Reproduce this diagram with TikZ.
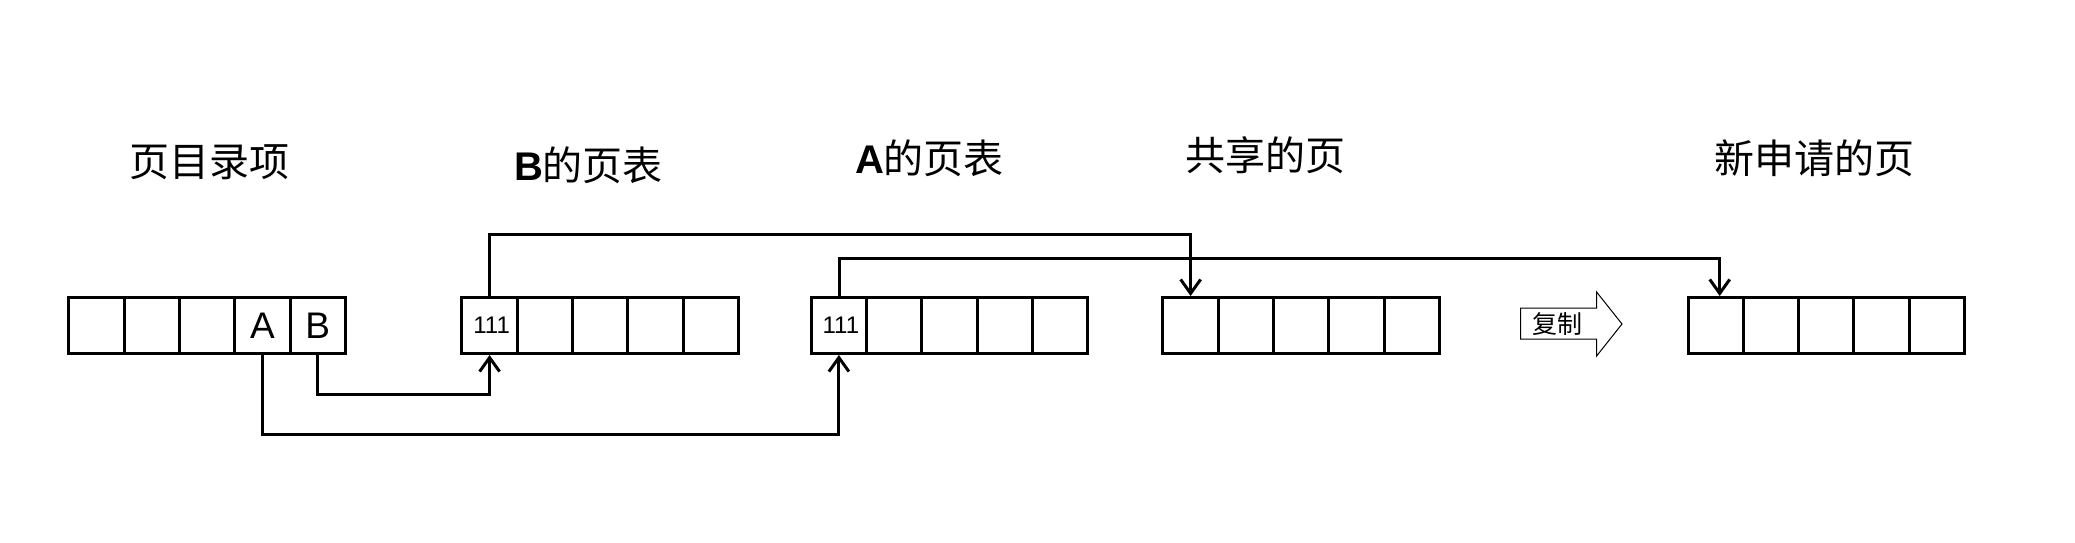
\documentclass[tikz,border=0pt]{standalone}
\usepackage{fontspec}
\setmainfont{Liberation Sans}
\newfontfamily\cjk{Noto Sans CJK SC}
\usetikzlibrary{arrows.meta}
\begin{document}
\begin{tikzpicture}[x=1pt,y=-1pt,
  cell/.style={draw,line width=3pt,minimum width=55.3pt,minimum height=56pt,inner sep=0pt},
  conn/.style={line width=3pt,-{Straight Barb[length=14pt,width=20pt,line width=3pt]}},
  title/.style={font=\fontsize{40}{48}\selectfont,inner sep=0pt},
  celltext/.style={font=\fontsize{37}{44}\selectfont,inner sep=0pt},
  numtext/.style={font=\fontsize{24}{28}\selectfont,inner sep=0pt}]
\fill[white] (0,0) rectangle (2075,543);
\path[use as bounding box] (0,0) rectangle (2075,543);
% titles
\node[title] (t1) at (209,162) {\cjk 页目录项};
\node[title] (t2) at (588.5,165) {\textbf{B}\cjk 的页表};
\node[title] (t3) at (929.5,158) {\textbf{A}\cjk 的页表};
\node[title] (t4) at (1265.5,155) {\cjk 共享的页};
\node[title] (t5) at (1814.5,158) {\cjk 新申请的页};
% cells
\foreach \r/\x in {d/96.5, b/489.6, a/838.9, s/1190.6, n/1715.7}
  \foreach \k in {1,...,5}
    \node[cell] (\r\k) at ({\x+(\k-1)*55.3},325.5) {};
\node[celltext] (tA) at (d4.center) {A};
\node[celltext] (tB) at (d5.center) {B};
\node[numtext] (nb) at ([xshift=2pt]b1.center) {111};
\node[numtext] (na) at ([xshift=2pt]a1.center) {111};
% connectors
\draw[conn] (d5.south) -- ++(0,39) -| (b1.south);
\draw[conn] (d4.south) -- ++(0,79) -| (a1.south);
\draw[conn] (b1.north) -- ++(0,-62) -| (s1.north);
\draw[conn] ([xshift=1pt]a1.north) -- ++(0,-38) -| ([xshift=4pt]n1.north);
% copy arrow
\draw[line width=1pt] (1520.5,308) -- (1596.6,308) -- (1596.6,292) -- (1622,324)
  -- (1596.6,356) -- (1596.6,339) -- (1520.5,339) -- cycle;
\node[font=\fontsize{25}{30}\selectfont,inner sep=0pt] (copy) at (1557,324) {\cjk 复制};
\end{tikzpicture}
\end{document}
